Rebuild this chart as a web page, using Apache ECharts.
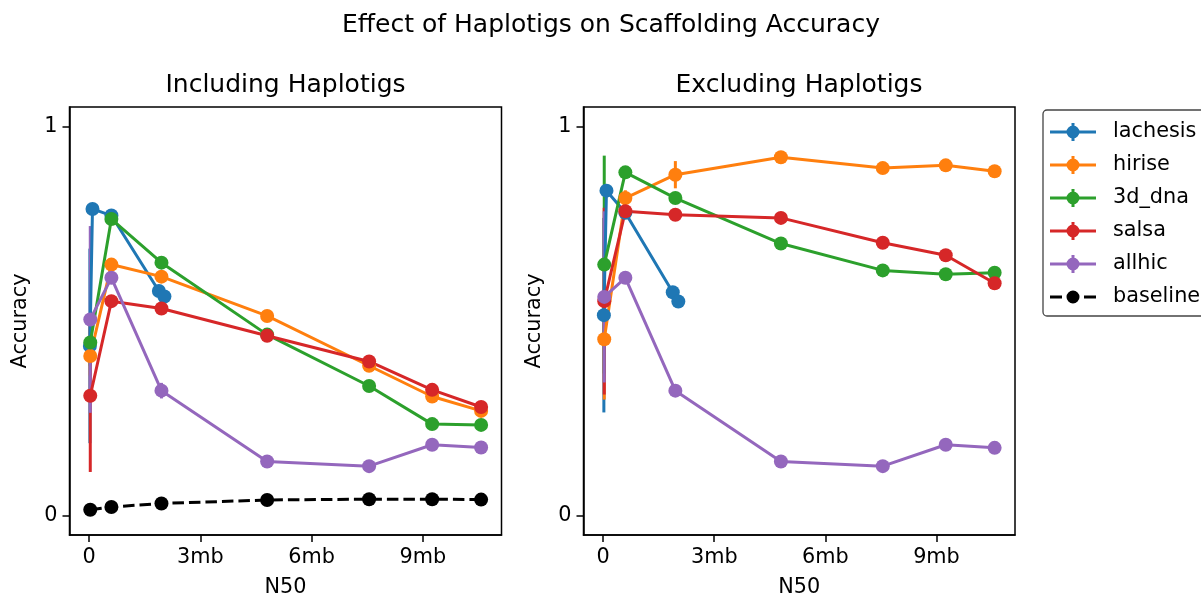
<!DOCTYPE html>
<html>
<head>
<meta charset="utf-8">
<script src="https://cdn.jsdelivr.net/npm/echarts@6/dist/echarts.min.js"></script>
<style>
html,body{margin:0;padding:0;background:#fff;}
#chart{width:1201px;height:601px;}
</style>
</head>
<body>
<div id="chart"></div>
<script>
// ---------------- data ----------------
const SUPTITLE = 'Effect of Haplotigs on Scaffolding Accuracy';
const PANEL_TITLES = ['Including Haplotigs', 'Excluding Haplotigs'];
const X_NAME = 'N50';
const Y_NAME = 'Accuracy';
const X_TICKS = [0, 3, 6, 9];          // in mb
const Y_TICKS = [0, 1];
const SERIES_NAMES = ['lachesis', 'hirise', '3d_dna', 'salsa', 'allhic', 'baseline'];

const N50 = [0.03, 0.6, 1.95, 4.8, 7.55, 9.25, 10.57];   // mb
const N50_LACHESIS = [0.02, 0.09, 0.6, 1.88, 2.03];      // mb

// Including haplotigs
const INC_LACHESIS     = [0.436, 0.788, 0.771, 0.577, 0.563];
const INC_LACHESIS_ERR = [0.25, 0.01, 0.01, 0.01, 0.01];
const INC_HIRISE       = [0.41, 0.645, 0.614, 0.513, 0.385, 0.306, 0.269];
const INC_HIRISE_ERR   = [0.05, 0.01, 0.01, 0.01, 0.005, 0.005, 0.005];
const INC_3D_DNA       = [0.445, 0.762, 0.650, 0.465, 0.333, 0.235, 0.233];
const INC_3D_DNA_ERR   = [0.06, 0.01, 0.01, 0.005, 0.005, 0.005, 0.005];
const INC_SALSA        = [0.308, 0.551, 0.532, 0.462, 0.396, 0.323, 0.279];
const INC_SALSA_ERR    = [0.196, 0.01, 0.01, 0.005, 0.005, 0.005, 0.005];
const INC_ALLHIC       = [0.504, 0.611, 0.321, 0.139, 0.127, 0.182, 0.175];
const INC_ALLHIC_ERR   = [0.24, 0.01, 0.02, 0.005, 0.005, 0.005, 0.005];
const INC_BASELINE     = [0.015, 0.022, 0.031, 0.040, 0.042, 0.042, 0.041];

// Excluding haplotigs
const EXC_LACHESIS     = [0.515, 0.835, 0.778, 0.574, 0.55];
const EXC_LACHESIS_ERR = [0.25, 0.01, 0.01, 0.01, 0.01];
const EXC_HIRISE       = [0.453, 0.816, 0.876, 0.921, 0.893, 0.900, 0.885];
const EXC_HIRISE_ERR   = [0.155, 0.02, 0.035, 0.01, 0.005, 0.005, 0.005];
const EXC_3D_DNA       = [0.645, 0.882, 0.816, 0.699, 0.630, 0.620, 0.624];
const EXC_3D_DNA_ERR   = [0.28, 0.01, 0.01, 0.005, 0.005, 0.005, 0.005];
const EXC_SALSA        = [0.551, 0.782, 0.773, 0.765, 0.701, 0.669, 0.597];
const EXC_SALSA_ERR    = [0.24, 0.01, 0.015, 0.005, 0.005, 0.005, 0.005];
const EXC_ALLHIC       = [0.562, 0.611, 0.321, 0.139, 0.127, 0.182, 0.174];
const EXC_ALLHIC_ERR   = [0.22, 0.01, 0.015, 0.005, 0.005, 0.005, 0.005];

// ---------------- style ----------------
const COLORS = {lachesis:'#1f77b4', hirise:'#ff7f0e', '3d_dna':'#2ca02c', salsa:'#d62728', allhic:'#9467bd', baseline:'#000000'};
const FONT = 'DejaVu Sans';
const LW = 3;
const MS = 14;

const panels = [
  {grid:{left:69.5, top:107, width:432, height:428},
   series:[
     ['lachesis', N50_LACHESIS, INC_LACHESIS, INC_LACHESIS_ERR],
     ['hirise', N50, INC_HIRISE, INC_HIRISE_ERR],
     ['3d_dna', N50, INC_3D_DNA, INC_3D_DNA_ERR],
     ['salsa', N50, INC_SALSA, INC_SALSA_ERR],
     ['allhic', N50, INC_ALLHIC, INC_ALLHIC_ERR],
     ['baseline', N50, INC_BASELINE, null]
   ]},
  {grid:{left:583.5, top:107, width:431.5, height:428},
   series:[
     ['lachesis', N50_LACHESIS, EXC_LACHESIS, EXC_LACHESIS_ERR],
     ['hirise', N50, EXC_HIRISE, EXC_HIRISE_ERR],
     ['3d_dna', N50, EXC_3D_DNA, EXC_3D_DNA_ERR],
     ['salsa', N50, EXC_SALSA, EXC_SALSA_ERR],
     ['allhic', N50, EXC_ALLHIC, EXC_ALLHIC_ERR]
   ]}
];

const grids = [], xAxes = [], yAxes = [], series = [];
panels.forEach((p, gi) => {
  grids.push(Object.assign({show:true, borderColor:'#000', borderWidth:1.5, backgroundColor:'#fff',
    containLabel:false, outerBoundsMode:'none'}, p.grid));
  xAxes.push({
    type:'value', gridIndex:gi, min:-0.53, max:11.12,
    name:X_NAME, nameLocation:'middle', nameGap:42,
    nameTextStyle:{fontFamily:FONT, fontSize:20.8, color:'#000'},
    axisLine:{show:true, onZero:false, lineStyle:{color:'#000', width:1.5}},
    axisTick:{show:true, inside:false, length:7, lineStyle:{color:'#000', width:1.5}, customValues:X_TICKS},
    axisLabel:{show:true, margin:12, fontFamily:FONT, fontSize:20.8, color:'#000', customValues:X_TICKS,
      formatter:v => v === 0 ? '0' : v + 'mb'},
    splitLine:{show:false}
  });
  yAxes.push({
    type:'value', gridIndex:gi, min:-0.05, max:1.05,
    name:Y_NAME, nameLocation:'middle', nameGap:38, nameRotate:90,
    nameTextStyle:{fontFamily:FONT, fontSize:20.8, color:'#000'},
    axisLine:{show:true, onZero:false, lineStyle:{color:'#000', width:1.5}},
    axisTick:{show:true, inside:false, length:7, lineStyle:{color:'#000', width:1.5}, customValues:Y_TICKS},
    axisLabel:{show:true, margin:12, fontFamily:FONT, fontSize:20.8, color:'#000', customValues:Y_TICKS},
    splitLine:{show:false}
  });
  p.series.forEach(([name, xs, ys, errs]) => {
    const color = COLORS[name];
    if (errs) {
      series.push({
        type:'custom', name:name + ' (err)', xAxisIndex:gi, yAxisIndex:gi, silent:true, clip:false,
        data: xs.map((x, i) => [x, ys[i], errs[i]]),
        renderItem: (params, api) => {
          const x = api.value(0), y = api.value(1), e = api.value(2);
          const a = api.coord([x, y - e]), b = api.coord([x, y + e]);
          return {type:'line', shape:{x1:a[0], y1:a[1], x2:b[0], y2:b[1]},
                  style:{stroke:color, lineWidth:LW}};
        }
      });
    }
    series.push({
      type:'line', name:name, xAxisIndex:gi, yAxisIndex:gi,
      data: xs.map((x, i) => [x, ys[i]]),
      symbol:'circle', symbolSize:MS, showSymbol:true, showAllSymbol:true,
      itemStyle:{color:color, borderWidth:0},
      lineStyle:{color:color, width:LW, type: name === 'baseline' ? [11.5, 5] : 'solid'},
      emphasis:{disabled:true}, clip:false
    });
  });
});

// legend icons (errorbar handle: line + marker + vertical bar; baseline: dash-dot-dash)
const ICON_ERR = 'path://M0 7.5H46V10.5H0Z M21.5 0H24.5V18H21.5Z M16.5 9A6.5 6.5 0 0 1 29.5 9A6.5 6.5 0 0 1 16.5 9Z';
const ICON_BASE = 'path://M0 7.5H12V10.5H0Z M34 7.5H46V10.5H34Z M0 0H0.01V0.01H0Z M0 17.99H0.01V18H0Z M16.5 9A6.5 6.5 0 0 1 29.5 9A6.5 6.5 0 0 1 16.5 9Z';

const option = {
  animation:false,
  backgroundColor:'#fff',
  textStyle:{fontFamily:FONT},
  grid:grids, xAxis:xAxes, yAxis:yAxes, series:series,
  legend:{
    orient:'vertical', left:1043, top:110,
    padding:[10, 10, 7, 7], itemGap:9, itemWidth:46, itemHeight:18,
    borderColor:'#444', borderWidth:1.3, borderRadius:4, backgroundColor:'#fff',
    selectedMode:false,
    textStyle:{fontFamily:FONT, fontSize:20.8, color:'#000', lineHeight:24, padding:[0,0,0,12]},
    itemStyle:{borderWidth:0},
    data: SERIES_NAMES.map(n => ({name:n, icon: n === 'baseline' ? ICON_BASE : ICON_ERR}))
  },
  graphic:[
    {type:'text', style:{text:SUPTITLE, x:611, y:25, align:'center', verticalAlign:'middle', font:'25px "DejaVu Sans"', fill:'#000'}},
    {type:'text', style:{text:PANEL_TITLES[0], x:285.5, y:85, align:'center', verticalAlign:'middle', font:'25px "DejaVu Sans"', fill:'#000'}},
    {type:'text', style:{text:PANEL_TITLES[1], x:799, y:85, align:'center', verticalAlign:'middle', font:'25px "DejaVu Sans"', fill:'#000'}}
  ]
};

const chart = echarts.init(document.getElementById('chart'), null, {renderer:'canvas'});
chart.setOption(option);
</script>
</body>
</html>
